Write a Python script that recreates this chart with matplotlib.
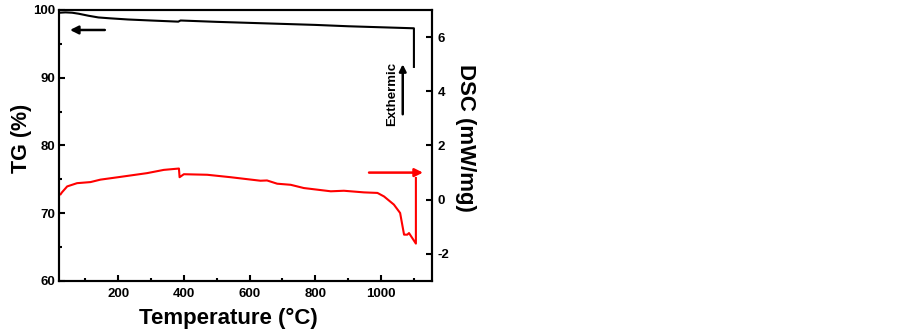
import matplotlib
matplotlib.use("Agg")
from matplotlib import pyplot as plt
from matplotlib.ticker import MultipleLocator

plt.rcParams['font.family'] = ['Liberation Sans', 'DejaVu Sans']
plt.rcParams['font.weight'] = 'bold'
plt.rcParams['axes.unicode_minus'] = False

# TG curve (black, left axis)
tg_temp = [22, 40, 60, 80, 110, 140, 176, 230, 300, 383, 390, 500, 600, 700, 800, 900, 1000, 1100, 1100]
tg_mass = [99.6, 99.65, 99.6, 99.45, 99.15, 98.9, 98.77, 98.6, 98.45, 98.28, 98.45, 98.25, 98.1, 97.95, 97.8, 97.6, 97.45, 97.3, 91.6]

# DSC curve (red, right axis)
dsc_temp = [25, 29, 45, 75, 116, 146, 200, 288, 339, 385, 387, 400, 471, 542, 633, 653, 684, 725,
            765, 847, 887, 948, 989, 1009, 1039, 1058, 1070, 1080, 1085, 1106, 1106]
dsc_val = [0.2, 0.27, 0.49, 0.61, 0.65, 0.74, 0.83, 0.98, 1.10, 1.15, 0.83, 0.94, 0.92, 0.83,
           0.70, 0.71, 0.59, 0.55, 0.43, 0.31, 0.33, 0.27, 0.25, 0.12, -0.18, -0.49, -1.29, -1.29,
           -1.23, -1.62, 0.80]

fig = plt.figure(figsize=(9.03, 3.30), dpi=100)
ax = fig.add_axes([0.0653, 0.1485, 0.4131, 0.8212])
ax2 = ax.twinx()

ax.plot(tg_temp, tg_mass, color='black', lw=1.5)
ax2.plot(dsc_temp, dsc_val, color='red', lw=1.5)

ax.set_xlim(20, 1155)
ax.set_ylim(60, 100)
ax2.set_ylim(-3, 7)

ax.xaxis.set_major_locator(MultipleLocator(200))
ax.xaxis.set_minor_locator(MultipleLocator(100))
ax.yaxis.set_major_locator(MultipleLocator(10))
ax.yaxis.set_minor_locator(MultipleLocator(5))
ax2.yaxis.set_major_locator(MultipleLocator(2))

ax.tick_params(which='both', direction='in', width=1.5, labelsize=9.5, pad=3)
ax.tick_params(axis='x', pad=5)
ax.tick_params(which='major', length=4)
ax.tick_params(which='minor', length=2.5)
ax2.tick_params(which='both', direction='in', width=1.5, length=4, labelsize=9.5, pad=4)

for a in (ax, ax2):
    for s in a.spines.values():
        s.set_linewidth(1.5)
    for lbl in a.get_xticklabels() + a.get_yticklabels():
        lbl.set_fontweight('bold')

ax.set_xlabel('Temperature (°C)', fontsize=16, fontweight='bold')
ax.xaxis.set_label_coords(0.453, -0.098)
ax.set_ylabel('TG (%)', fontsize=15.5, fontweight='bold')
ax.yaxis.set_label_coords(-0.072, 0.528)
ax2.set_ylabel('DSC (mW/mg)', fontsize=16, fontweight='bold', rotation=270, va='bottom')
ax2.yaxis.set_label_coords(1.062, 0.528)

# arrows
ax.annotate('', xy=(45, 97.05), xytext=(168, 97.05),
            arrowprops=dict(arrowstyle='-|>', color='black', lw=1.8, mutation_scale=12))
ax2.annotate('', xy=(1136, 1.0), xytext=(955, 1.0),
             arrowprops=dict(arrowstyle='-|>', color='red', lw=1.8, mutation_scale=12))
ax2.annotate('', xy=(1066, 5.1), xytext=(1066, 3.05),
             arrowprops=dict(arrowstyle='-|>', color='black', lw=1.8, mutation_scale=10))
ax2.text(1033, 3.9, 'Exthermic', rotation=90, ha='center', va='center',
         fontsize=9.5, fontweight='bold')

fig.savefig('out.png', dpi=100)
